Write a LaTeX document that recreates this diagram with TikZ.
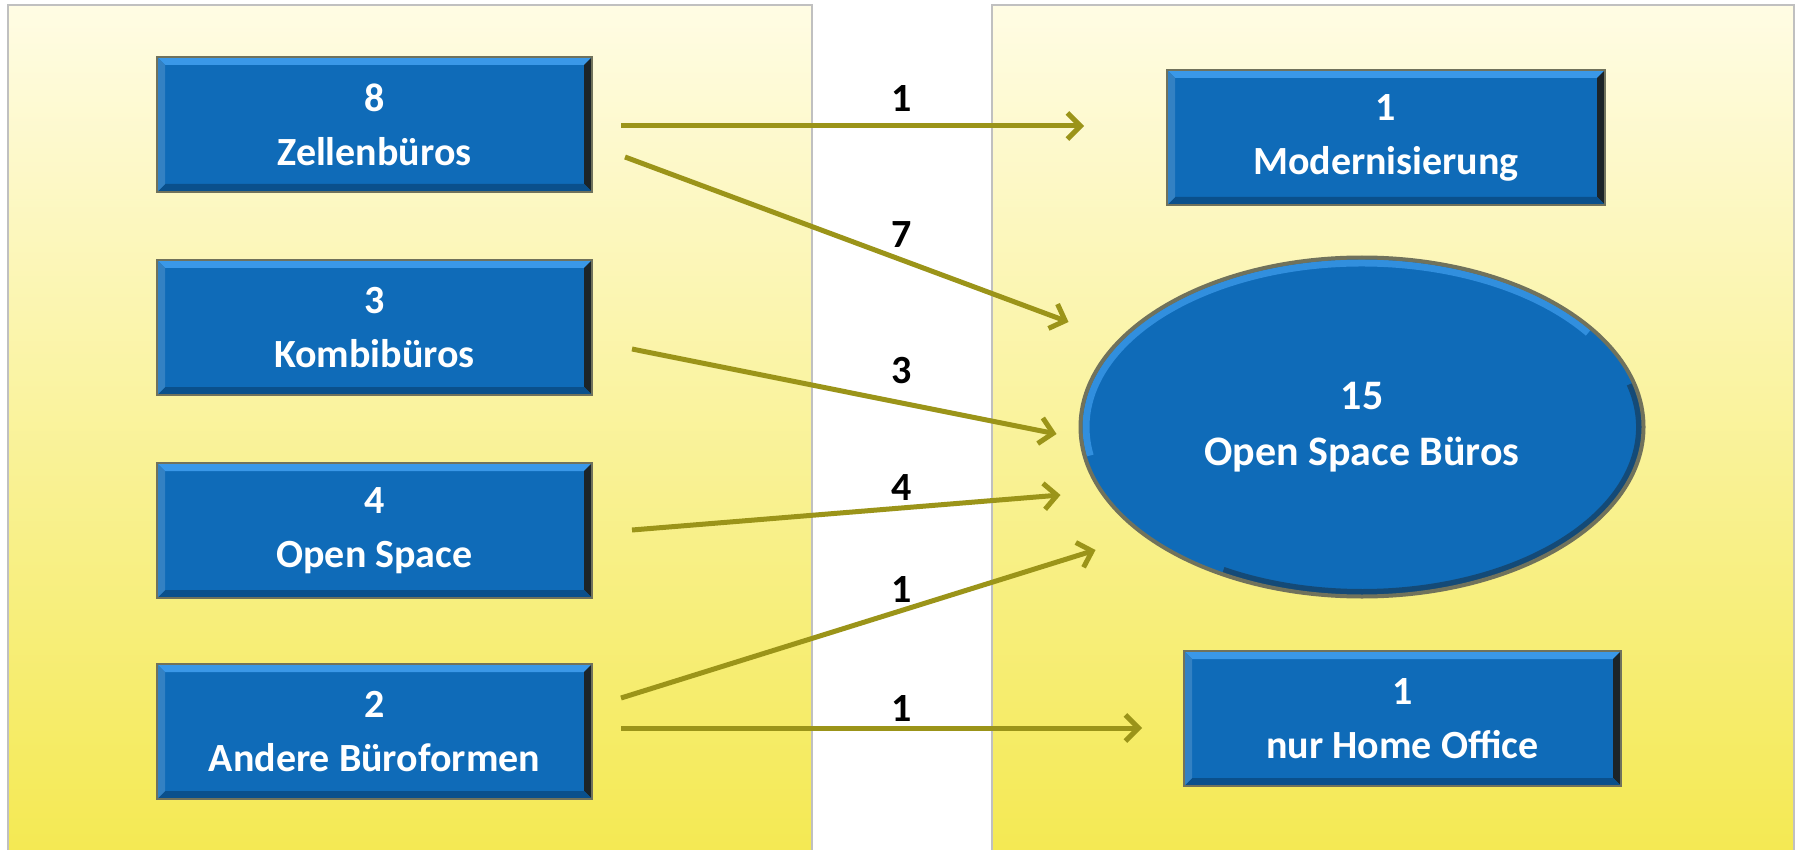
\documentclass[tikz,border=0pt]{standalone}
\usepackage{fontspec}
\setmainfont{Carlito}
\usetikzlibrary{arrows.meta,shapes.geometric,calc}
\definecolor{panTop}{RGB}{255,252,228}
\definecolor{panBot}{RGB}{244,233,82}
\definecolor{panLine}{RGB}{192,192,192}
\definecolor{boxBlue}{RGB}{15,107,184}
\definecolor{boxLight}{RGB}{58,152,232}
\definecolor{boxDark}{RGB}{28,36,40}
\definecolor{boxLow}{RGB}{10,80,140}
\definecolor{boxRim}{RGB}{112,114,92}
\definecolor{arrCol}{RGB}{155,148,25}
\tikzset{
  panel/.style={draw=panLine,line width=2.5pt,top color=panTop,bottom color=panBot},
  bevelbox/.style={rectangle,fill=boxBlue,draw=boxRim,line width=2pt,
    minimum width=435pt,minimum height=135pt,inner sep=0pt,
    text=white,align=center,font=\fontsize{40}{54}\selectfont\bfseries,
    path picture={
      \fill[boxLight] (path picture bounding box.north west) -- (path picture bounding box.north east)
        -- ([xshift=-8pt,yshift=-8pt]path picture bounding box.north east) -- ([xshift=8pt,yshift=-8pt]path picture bounding box.north west) -- cycle;
      \fill[boxDark] (path picture bounding box.north east) -- (path picture bounding box.south east)
        -- ([xshift=-8pt,yshift=8pt]path picture bounding box.south east) -- ([xshift=-8pt,yshift=-8pt]path picture bounding box.north east) -- cycle;
      \fill[boxLow] (path picture bounding box.south west) -- (path picture bounding box.south east)
        -- ([xshift=-8pt,yshift=8pt]path picture bounding box.south east) -- ([xshift=8pt,yshift=8pt]path picture bounding box.south west) -- cycle;
      \fill[boxBlue!85!white] (path picture bounding box.north west) -- (path picture bounding box.south west)
        -- ([xshift=8pt,yshift=8pt]path picture bounding box.south west) -- ([xshift=8pt,yshift=-8pt]path picture bounding box.north west) -- cycle;
    }},
  ovalnode/.style={ellipse,fill=boxBlue,draw=boxRim,line width=3pt,
    minimum width=564pt,minimum height=340pt,inner sep=0pt,
    text=white,align=center,font=\fontsize{42}{56}\selectfont\bfseries},
  rimlight/.style={boxLight,line width=7pt,opacity=0.8},
  rimdark/.style={boxDark,line width=6pt,opacity=0.45},
  arr/.style={draw=arrCol,line width=5pt,-{Straight Barb[length=13pt,width=26pt,line width=5pt]}},
  numlabel/.style={font=\fontsize{40}{48}\selectfont\bfseries,text=black,inner sep=0pt}
}
\begin{document}
\begin{tikzpicture}[x=1pt,y=-1pt]
\useasboundingbox (0,0) rectangle (1801,850);
\fill[white] (0,0) rectangle (1801,850);
% panels
\path[panel] (8,5) rectangle (812,856);
\path[panel] (992,5) rectangle (1794,856);
% left boxes
\node[bevelbox] (Z) at (374.5,124.5) {8\\Zellenbüros};
\node[bevelbox] (K) at (374.5,327.5) {3\\Kombibüros};
\node[bevelbox] (O) at (374.5,530.5) {4\\Open Space};
\node[bevelbox] (A) at (374.5,731.5) {2\\Andere Büroformen};
% right nodes
\node[bevelbox,minimum width=438pt] (M) at (1386,137.5) {1\\Modernisierung};
\node[bevelbox,minimum width=437pt] (H) at (1402.5,718.5) {1\\nur Home Office};
\node[ovalnode] (E) at (1362,427) {};
% ellipse rim shading
\begin{scope}
\clip (E.center) ellipse[x radius=280pt,y radius=168pt];
\draw[rimlight] (E.center) ++(35:276pt and 164pt) arc[start angle=35,end angle=190,x radius=276pt,y radius=164pt];
\draw[rimdark] (E.center) ++(15:277pt and 165pt) arc[start angle=15,end angle=-120,x radius=277pt,y radius=165pt];
\end{scope}
\draw[boxRim,line width=3pt] (E.center) ellipse[x radius=281pt,y radius=169pt];
\node[text=white,align=center,font=\fontsize{42}{56}\selectfont\bfseries] (Et) at (E.center) {15\\Open Space Büros};
% connectors
\draw[arr] ([shift={(28,1.5)}]Z.east) -- ([shift={(-82,-11.5)}]M.west);
\draw[arr] ([shift={(32,32.5)}]Z.east) -- ([shift={(-10,-105)}]E.west);
\draw[arr] ([shift={(39,21.5)}]K.east) -- ([shift={(-22,7)}]E.west);
\draw[arr] ([shift={(39,-0.5)}]O.east) -- ([shift={(-18,68)}]E.west);
\draw[arr] ([shift={(28,-33.5)}]A.east) -- ([shift={(17,123)}]E.west);
\draw[arr] ([shift={(28,-3.5)}]A.east) -- ([shift={(-41,9.5)}]H.west);
% labels
\node[numlabel] (l1) at (902,99) {1};
\node[numlabel] (l2) at (902,235) {7};
\node[numlabel] (l3) at (902,371) {3};
\node[numlabel] (l4) at (902,488) {4};
\node[numlabel] (l5) at (902,590) {1};
\node[numlabel] (l6) at (902,709) {1};
\end{tikzpicture}
\end{document}
